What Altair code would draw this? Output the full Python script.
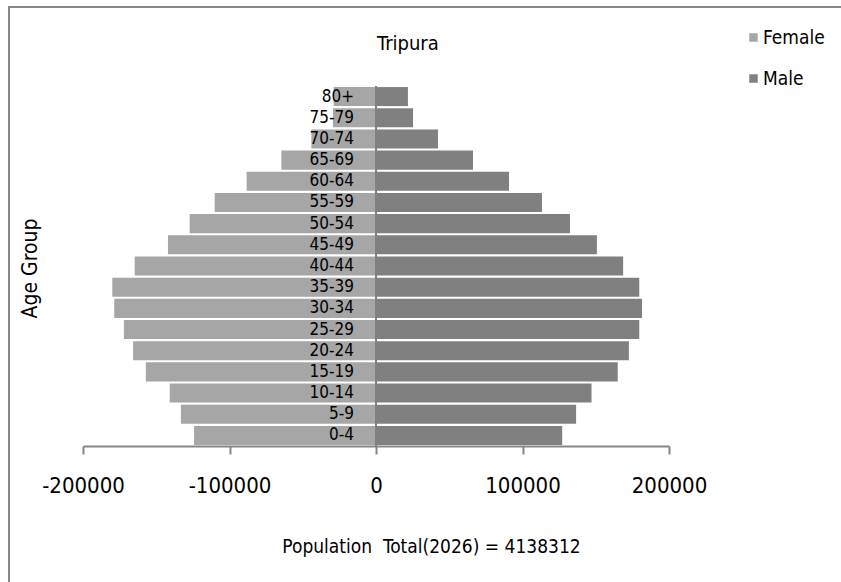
import altair as alt
import pandas as pd

ages = ["80+", "75-79", "70-74", "65-69", "60-64", "55-59", "50-54", "45-49",
        "40-44", "35-39", "30-34", "25-29", "20-24", "15-19", "10-14", "5-9", "0-4"]
female = [28900, 29400, 44100, 64600, 88300, 110100, 127200, 142000,
          164700, 180000, 178700, 172100, 165800, 157100, 140800, 133200, 124200]
male = [21800, 25300, 42300, 66200, 90800, 113300, 132400, 150800,
        168700, 179700, 181600, 179700, 172600, 165000, 147100, 136600, 127100]
tick_values = [-200000, -100000, 0, 100000, 200000]
sexes = ["Female", "Male"]
colors = ["#a6a6a6", "#808080"]
chart_title = ["Tripura"]

FONT = "Liberation Sans Narrow, DejaVu Sans Condensed, Liberation Sans, sans-serif"

rows = []
for a, f, m in zip(ages, female, male):
    rows.append({"age": a, "sex": "Female", "value": -f})
    rows.append({"age": a, "sex": "Male", "value": m})
df = pd.DataFrame(rows)
lab = pd.DataFrame({"age": ages})

yenc = alt.Y("age:N", sort=ages,
             scale=alt.Scale(paddingInner=0.1, paddingOuter=0.05),
             axis=alt.Axis(labels=False, ticks=False, domain=False, title="Age Group",
                           titleFont=FONT, titleFontSize=21, titleFontWeight="normal",
                           titleColor="black", titleX=-53, titleY=182,
                           titleAngle=270, titleAlign="center", titleBaseline="middle"))

bars = alt.Chart(df).mark_bar().encode(
    x=alt.X("value:Q", stack=None,
            scale=alt.Scale(domain=[-200000, 200000], nice=False),
            axis=alt.Axis(values=tick_values, grid=False, labelOverlap=False,
                          labelFlush=False,
                          labelExpr="'' + datum.value",
                          labelFont=FONT, labelFontSize=22, labelColor="black",
                          labelPadding=21,
                          domainColor="#868686", domainWidth=2,
                          tickColor="#868686", tickWidth=2, tickSize=8,
                          title="Population\u00a0 Total(2026) = 4138312",
                          titleFont=FONT, titleFontSize=19, titleFontWeight="normal",
                          titleColor="black", titleX=348, titleY=100,
                          titleAlign="center", titleBaseline="middle")),
    y=yenc,
    color=alt.Color("sex:N", scale=alt.Scale(domain=sexes, range=colors),
                    legend=alt.Legend(title=None, orient="none", legendX=661, legendY=-58,
                                      symbolType="square", symbolSize=72,
                                      symbolStrokeWidth=0,
                                      labelFont=FONT, labelFontSize=19, labelColor="black",
                                      labelOffset=0, rowPadding=21, padding=0)),
)

center = alt.Chart(lab).mark_rule(color="#808080", strokeWidth=2).encode(
    x=alt.datum(0)
)

labels = alt.Chart(lab).mark_text(align="right", baseline="middle", dx=-22,
                                  font=FONT, fontSize=17, color="black").encode(
    x=alt.datum(0),
    y=alt.Y("age:N", sort=ages),
    text="age:N",
)

title = alt.Chart(pd.DataFrame({"t": chart_title})).mark_text(
    align="center", baseline="middle", font=FONT, fontSize=20, color="black"
).encode(
    x=alt.datum(21800), y=alt.value(-42), text="t:N"
)

frame = alt.Chart(pd.DataFrame({"k": [0]})).mark_rect(
    fill=None, stroke="#888888", strokeWidth=2, clip=False
).encode(
    x=alt.value(-74), x2=alt.value(770), y=alt.value(-79), y2=alt.value(510)
)

chart = alt.layer(frame, bars, center, labels, title).properties(
    width=586, height=360,
    padding={"left": 83, "top": 86, "right": 172, "bottom": 136},
    autosize=alt.AutoSizeParams(type="none"),
).configure(background="white", view=alt.ViewConfig(stroke=None))

chart.save("out.html", embed_options={"renderer": "svg", "actions": False})
